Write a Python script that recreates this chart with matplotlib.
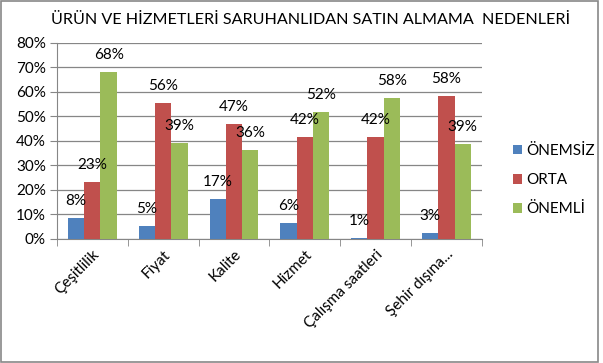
import matplotlib
matplotlib.use("Agg")
import matplotlib.pyplot as plt
import numpy as np
from matplotlib.patches import Rectangle

categories = ["Çeşitlilik", "Fiyat", "Kalite", "Hizmet", "Çalışma saatleri", "Şehir dışına..."]
series_names = ["ÖNEMSİZ", "ORTA", "ÖNEMLİ"]
onemsiz = [8.5, 5.2, 16.5, 6.4, 0.6, 2.6]
orta = [23.2, 55.6, 47.0, 41.6, 41.6, 58.4]
onemli = [68.3, 39.0, 36.3, 51.8, 57.6, 38.7]
onemsiz_labels = ["8%", "5%", "17%", "6%", "1%", "3%"]
orta_labels = ["23%", "56%", "47%", "42%", "42%", "58%"]
onemli_labels = ["68%", "39%", "36%", "52%", "58%", "39%"]
yticks = [0, 10, 20, 30, 40, 50, 60, 70, 80]
title = "ÜRÜN VE HİZMETLERİ SARUHANLIDAN SATIN ALMAMA  NEDENLERİ"

colors = ["#4F81BD", "#C0504D", "#9BBB59"]
font = ["Lato", "DejaVu Sans"]
plt.rcParams['font.family'] = font

fig = plt.figure(figsize=(6.03, 3.63), dpi=100)
fig.patches.append(Rectangle((0.002, 0.004), 0.99, 0.992, transform=fig.transFigure,
                             fill=False, edgecolor="#888888", linewidth=1.2))
ax = fig.add_axes([0.0945, 0.3416, 0.7045, 0.54])

x = np.arange(len(categories))
bw = 0.229
data = [onemsiz, orta, onemli]
labels = [onemsiz_labels, orta_labels, onemli_labels]
for i, (vals, labs) in enumerate(zip(data, labels)):
    pos = x + (i - 1) * bw
    ax.bar(pos, vals, width=bw, color=colors[i], label=series_names[i], zorder=3)
    for p, v, l in zip(pos, vals, labs):
        ax.annotate(l, (p, v), xytext=(0, 10), textcoords="offset pixels",
                    ha="center", va="bottom", fontsize=11, color="black", zorder=4)

ax.set_xlim(-0.5, len(categories) - 0.5)
ax.set_ylim(0, 80)
ax.set_yticks(yticks)
ax.set_yticklabels([f"{t}%" for t in yticks], fontsize=11)
ax.yaxis.grid(True, color="#868686", linewidth=0.9, zorder=0)
ax.set_xticks(x)
ax.set_xticklabels(categories, rotation=45, ha="right", rotation_mode="anchor", fontsize=11)
ax.tick_params(axis="x", length=0, pad=6)
ax.set_xticks(np.arange(-0.5, len(categories)), minor=True)
ax.tick_params(axis="x", which="minor", length=5, color="#868686")
ax.tick_params(axis="y", length=5, color="#868686", pad=3)
for s in ["top", "right"]:
    ax.spines[s].set_visible(False)
for s in ["left", "bottom"]:
    ax.spines[s].set_color("#868686")

fig.text(0.515, 0.945, title, ha="center", va="center", fontsize=11.6)

ax.legend(loc="center left", bbox_to_anchor=(1.04, 0.30), frameon=False, fontsize=11,
          handlelength=0.6, handleheight=0.6, handletextpad=0.3, labelspacing=1.0)

fig.savefig("out.png", dpi=100)
